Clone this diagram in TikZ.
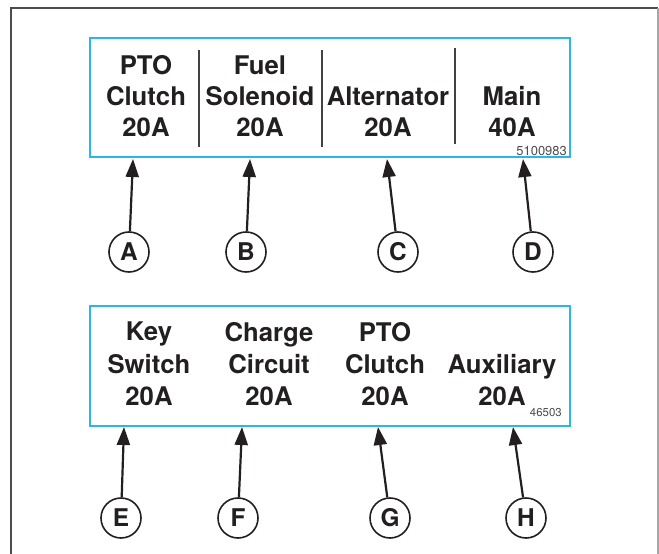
\documentclass[tikz,border=0pt]{standalone}
\usepackage{fontspec}
\setmainfont{TeX Gyre Heros}
\usetikzlibrary{arrows.meta}
\definecolor{ink}{HTML}{231F20}
\definecolor{boxblue}{HTML}{29B6EC}
\tikzset{
  fusebox/.style={draw=boxblue, line width=1.6bp},
  sep/.style={draw=ink!85, line width=1.5bp},
  lbl/.style={inner sep=0pt, align=center, text=ink, font=\bfseries\fontsize{25.8}{31}\selectfont},
  lblb/.style={inner sep=0pt, align=center, text=ink, font=\bfseries\fontsize{25.8}{32.5}\selectfont},
  callout/.style={circle, draw=ink, line width=1.6bp, minimum size=40bp, inner sep=0pt, text=ink, font=\bfseries\fontsize{24.5}{24.5}\selectfont},
  pointer/.style={draw=ink, line width=2.2bp, -{Triangle[length=18bp,width=13bp]}},
  partno/.style={inner sep=0pt, text=ink!80, font=\fontsize{13}{13}\selectfont}
}
\begin{document}
\begin{tikzpicture}[x=1bp,y=-1bp]
\useasboundingbox (0,0) rectangle (659,554);
% outer frame
\draw[draw=black!70, line width=1.8bp] (11,554) -- (11,8) -- (658,8);
\draw[draw=black!35, line width=1.2bp] (658,8) -- (658,554);
% top fuse box
\draw[fusebox] (90,38) rectangle (570,157);
\draw[sep] (199,50) -- (199,147);
\draw[sep] (322,50) -- (322,147);
\draw[sep] (455,48) -- (455,144);
\node[lbl] (t1) at (146,96) {PTO\\Clutch\\20A};
\node[lbl] (t2) at (260,96) {Fuel\\Solenoid\\20A};
\node[lbl] (t3) at (388,111.5) {Alternator\\20A};
\node[lbl] (t4) at (512,111.5) {Main\\40A};
\node[partno, anchor=east] (pn1) at (567,151) {5100983};
% top callouts
\node[callout] (A) at (129,252) {A};
\node[callout] (B) at (246,252) {B};
\node[callout] (C) at (398,252) {C};
\node[callout] (D) at (533,252) {D};
\coordinate (tA) at (133,159);
\coordinate (tB) at (250,159);
\coordinate (tC) at (387,159);
\coordinate (tD) at (523,159);
\draw[pointer] (A) -- (tA);
\draw[pointer] (B) -- (tB);
\draw[pointer] (C) -- (tC);
\draw[pointer] (D) -- (tD);
% bottom fuse box
\draw[fusebox] (90,306) rectangle (570,426);
\node[lblb] (b1) at (149,364) {Key\\Switch\\20A};
\node[lblb] (b2) at (269,364) {Charge\\Circuit\\20A};
\node[lblb] (b3) at (385,364) {PTO\\Clutch\\20A};
\node[lblb] (b4) at (502,380) {Auxiliary\\20A};
\node[partno, anchor=east, font=\fontsize{11.5}{11.5}\selectfont] (pn2) at (562,413) {46503};
% bottom callouts
\node[callout] (E) at (121,518) {E};
\node[callout] (F) at (238,518) {F};
\node[callout] (G) at (390,518) {G};
\node[callout] (H) at (526,518) {H};
\coordinate (tE) at (124,427);
\coordinate (tF) at (242,427);
\coordinate (tG) at (378,427);
\coordinate (tH) at (513,427);
\draw[pointer] (E) -- (tE);
\draw[pointer] (F) -- (tF);
\draw[pointer] (G) -- (tG);
\draw[pointer] (H) -- (tH);
\end{tikzpicture}
\end{document}
